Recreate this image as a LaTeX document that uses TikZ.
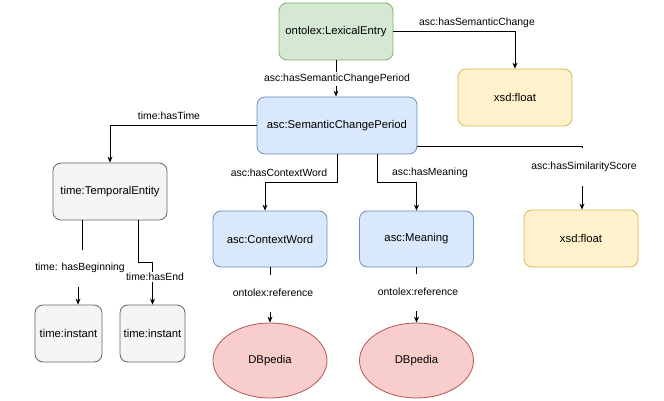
\documentclass[tikz,border=0pt]{standalone}
\usepackage{fontspec}
\setmainfont{Liberation Sans}
\usetikzlibrary{arrows.meta,positioning,shapes.geometric}
\definecolor{grnF}{HTML}{D5E8D4}\definecolor{grnD}{HTML}{82B366}
\definecolor{bluF}{HTML}{DAE8FC}\definecolor{bluD}{HTML}{6C8EBF}
\definecolor{yelF}{HTML}{FFF2CC}\definecolor{yelD}{HTML}{D6B656}
\definecolor{gryF}{HTML}{F5F5F5}\definecolor{gryD}{HTML}{666666}
\definecolor{redF}{HTML}{F8CECC}\definecolor{redD}{HTML}{B85450}

\begin{document}
\begin{tikzpicture}[
  x=1pt, y=-1pt, >={Stealth[length=6pt,width=5pt]}, line width=0.8pt,
  box/.style={draw, rounded corners=8pt, align=center, inner sep=0pt, minimum width=114pt, minimum height=57pt, font=\fontsize{11.3}{13}\selectfont},
  lex/.style={box, fill=grnF, draw=grnD},
  cls/.style={box, fill=bluF, draw=bluD},
  lit/.style={box, fill=yelF, draw=yelD},
  tim/.style={box, fill=gryF, draw=gryD},
  res/.style={box, ellipse, rounded corners=0pt, fill=redF, draw=redD, minimum height=75pt},
  lbl/.style={font=\fontsize{10.4}{12}\selectfont, inner sep=1pt},
  cut/.style={lbl, fill=white, inner ysep=2pt},
  gap/.style={lbl, fill=white, minimum height=37pt}]
\useasboundingbox (0,0) rectangle (664,401);
% classes
\node[lex] (entry) at (336,31.5) {ontolex:LexicalEntry};
\node[lit] (flt1) at (515,97.5) {xsd:float};
\node[cls, minimum width=160pt] (period) at (337,125.5) {asc:SemanticChangePeriod};
\node[tim] (temp) at (110,191.5) {time:TemporalEntity};
\node[cls, minimum height=56pt] (ctx) at (270,239) {asc:ContextWord};
\node[cls, minimum height=56pt] (mean) at (416.5,239) {asc:Meaning};
\node[lit] (flt2) at (581,238.5) {xsd:float};
\node[tim, minimum width=67pt] (inst1) at (68.5,333.5) {time:instant};
\node[tim, minimum width=65pt] (inst2) at (152.5,333.5) {time:instant};
\node[res] (db1) at (270,360.5) {DBpedia};
\node[res] (db2) at (416.5,360.5) {DBpedia};
% properties
\draw[->] (entry.south) -- (entry.south |- period.north);
\draw[->] (entry.east) -| (flt1.north);
\draw[->] (period.west) -| (temp.north);
\draw[->] ([xshift=0.5pt]period.south) -- ++(0,28) -| ([xshift=-5pt]ctx.north);
\draw[->] ([xshift=40pt]period.south) -- ++(0,28) -| (mean.north);
\draw[->] ([yshift=-20.5pt]period.east) -| ([xshift=1pt]flt2.north);
\draw[->] ([xshift=-28pt]temp.south) -- ++(0,48) -| ([xshift=9.5pt]inst1.north);
\draw[->] ([xshift=28pt]temp.south) -- ++(0,42) -| (inst2.north);
\draw[->] (ctx) -- (db1);
\draw[->] (mean) -- (db2);
% labels
\node[cut] (lPeriod) at (337,79) {asc:hasSemanticChangePeriod};
\node[lbl] (lChange) at (477,23) {asc:hasSemanticChange};
\node[lbl] (lTime) at (169,116) {time:hasTime};
\node[lbl] (lCtx) at (279,173) {asc:hasContextWord};
\node[lbl] (lMean) at (430,173) {asc:hasMeaning};
\node[gap] (lScore) at (584,167) {asc:hasSimilarityScore};
\node[gap] (lBegin) at (80,268) {time: hasBeginning};
\node[cut, inner ysep=1pt] (lEnd) at (155,277) {time:hasEnd};
\node[gap] (lRef1) at (273,293) {ontolex:reference};
\node[gap] (lRef2) at (418,292) {ontolex:reference};
\end{tikzpicture}
\end{document}
